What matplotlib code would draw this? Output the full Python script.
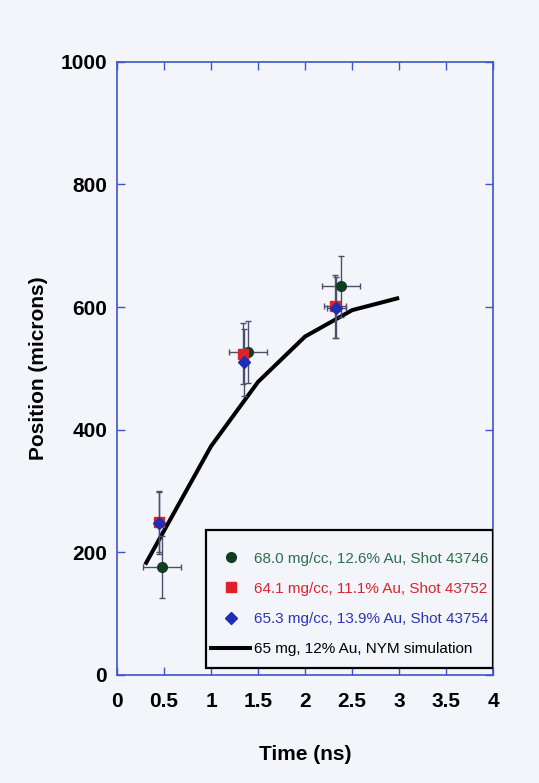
import matplotlib
matplotlib.use("Agg")
import matplotlib.pyplot as plt
from matplotlib.lines import Line2D
from matplotlib.patches import Rectangle
from matplotlib.ticker import FuncFormatter, MultipleLocator

# Measured shock positions (time in ns, position in microns)
green_t = [0.48, 1.39, 2.38]
green_pos = [176, 527, 634]
green_terr = [0.2, 0.2, 0.2]
green_perr = [50, 50, 50]

red_t = [0.45, 1.34, 2.32]
red_pos = [250, 524, 601]
red_terr = [0.03, 0.03, 0.12]
red_perr = [50, 50, 51]

blue_t = [0.45, 1.35, 2.33]
blue_pos = [248, 510, 599]
blue_terr = [0.03, 0.03, 0.10]
blue_perr = [50, 55, 50]

# NYM simulation
sim_t = [0.3, 1.0, 1.5, 2.0, 2.5, 3.0]
sim_pos = [180, 373, 478, 552, 595, 615]

labels = [
    "68.0 mg/cc, 12.6% Au, Shot 43746",
    "64.1 mg/cc, 11.1% Au, Shot 43752",
    "65.3 mg/cc, 13.9% Au, Shot 43754",
    "65 mg, 12% Au, NYM simulation",
]

page = "#f3f5fa"
spine_col = "#3d55c8"
err_col = "#4b4f6e"
green = "#123d22"
red = "#e02127"
blue = "#1f2fb5"
green_txt = "#2e6e4e"
red_txt = "#d8262e"
blue_txt = "#2a36b0"

font = ["Liberation Sans Narrow", "Liberation Sans", "DejaVu Sans"]

fig = plt.figure(figsize=(5.39, 7.83), dpi=100, facecolor=page)
ax = fig.add_axes([0.217, 0.138, 0.698, 0.783], facecolor=page)

ax.plot(sim_t, sim_pos, color="black", lw=2.9, zorder=3, solid_capstyle="butt")

for t, p, te, pe, col, mk, ms in [
    (green_t, green_pos, green_terr, green_perr, green, "o", 7),
    (red_t, red_pos, red_terr, red_perr, red, "s", 7),
    (blue_t, blue_pos, blue_terr, blue_perr, blue, "D", 6),
]:
    ax.errorbar(t, p, xerr=te, yerr=pe, fmt="none", ecolor=err_col,
                elinewidth=1, capsize=2.5, capthick=1, zorder=4)
    ax.plot(t, p, linestyle="none", marker=mk, markersize=ms,
            color=col, markeredgecolor=col, zorder=5)

ax.set_xlim(0, 4)
ax.set_ylim(0, 1000)
ax.xaxis.set_major_locator(MultipleLocator(0.5))
ax.yaxis.set_major_locator(MultipleLocator(200))
ax.xaxis.set_major_formatter(FuncFormatter(lambda v, _: f"{v:g}"))
ax.yaxis.set_major_formatter(FuncFormatter(lambda v, _: f"{v:g}"))

for s in ax.spines.values():
    s.set_color(spine_col)
    s.set_linewidth(1.2)
ax.tick_params(which="both", direction="in", length=6, width=1,
               color=spine_col, top=True, right=True)
ax.tick_params(axis="x", pad=12)
ax.tick_params(axis="y", pad=7)
for lab in ax.get_xticklabels() + ax.get_yticklabels():
    lab.set_family(font)
    lab.set_fontweight("bold")
    lab.set_fontsize(15)
    lab.set_color("black")

ax.set_xlabel("Time (ns)", family=font, fontweight="bold",
              fontsize=15, labelpad=25)
ax.set_ylabel("Position (microns)", family=font, fontweight="bold",
              fontsize=15, labelpad=9)

# legend box
box = Rectangle((0.237, 0.011), 0.763, 0.226, transform=ax.transAxes,
                facecolor=page, edgecolor="black", linewidth=1.6, zorder=6)
ax.add_patch(box)

handles = [
    Line2D([], [], linestyle="none", marker="o", markersize=7, color=green),
    Line2D([], [], linestyle="none", marker="s", markersize=7, color=red),
    Line2D([], [], linestyle="none", marker="D", markersize=6, color=blue),
    Line2D([], [], color="black", lw=2.9),
]
leg = ax.legend(handles, labels, loc="center",
                bbox_to_anchor=(0.6185, 0.116), frameon=False,
                prop={"family": font, "size": 11},
                labelcolor=[green_txt, red_txt, blue_txt, "black"],
                handlelength=2.6, handletextpad=0.25, labelspacing=1.05,
                borderpad=0.0, borderaxespad=0.0)
leg.set_zorder(7)

fig.savefig("out.png", dpi=100, facecolor=page)
